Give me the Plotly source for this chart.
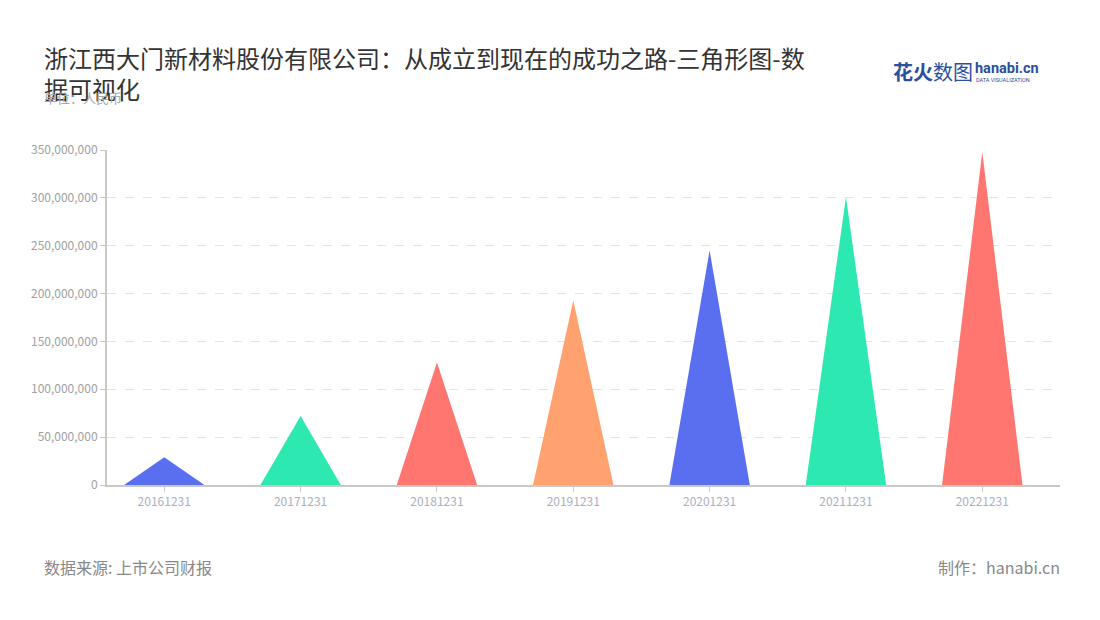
import plotly.graph_objects as go

categories = ["20161231", "20171231", "20181231", "20191231", "20201231", "20211231", "20221231"]
values = [29000000, 72000000, 128000000, 193000000, 245000000, 301000000, 348000000]
colors = ["#5a6ff0", "#2ee8b2", "#ff7570", "#ffa26f", "#5a6ff0", "#2ee8b2", "#ff7570"]
y_ticks = [0, 50000000, 100000000, 150000000, 200000000, 250000000, 300000000, 350000000]

half_w = 0.295
FONT = "Noto Sans CJK SC, Noto Sans, sans-serif"

fig = go.Figure()
for i, (c, v, col) in enumerate(zip(categories, values, colors)):
    fig.add_trace(go.Scatter(
        x=[i - half_w, i, i + half_w, i - half_w],
        y=[0, v, 0, 0],
        mode="lines", fill="toself", fillcolor=col,
        line=dict(width=0, color=col),
        hoverinfo="text", text=f"{c}: {v:,}", showlegend=False,
    ))

fig.update_layout(
    width=1100, height=620,
    margin=dict(l=99, r=48, t=142, b=143),
    paper_bgcolor="white", plot_bgcolor="white",
    font=dict(family=FONT, color="#999"),
    xaxis=dict(
        range=[-0.42, 6.57],
        tickmode="array", tickvals=list(range(len(categories))), ticktext=categories,
        showgrid=False, zeroline=False,
        showline=True, linecolor="#c8c8c8", linewidth=2,
        ticks="outside", ticklen=5, tickcolor="#c8c8c8",
        tickfont=dict(size=12, color="#aab0bf"),
    ),
    yaxis=dict(
        range=[0, 350000000],
        tickmode="array", tickvals=y_ticks,
        ticktext=[f"{t:,}" for t in y_ticks],
        showgrid=True, gridcolor="#e3e3e3", griddash="dash", gridwidth=1,
        zeroline=False,
        showline=True, linecolor="#c8c8c8", linewidth=2,
        ticks="outside", ticklen=5, tickcolor="#c8c8c8",
        tickfont=dict(size=12, color="#a0a0a0"),
    ),
    annotations=[
        dict(text="浙江西大门新材料股份有限公司：从成立到现在的成功之路-三角形图-数<br>据可视化",
             xref="paper", yref="paper", x=-0.068, y=1.334, xanchor="left", yanchor="top",
             align="left", showarrow=False,
             font=dict(size=24, color="#333", family=FONT)),
        dict(text="单位：人民币", xref="paper", yref="paper", x=-0.068, y=1.158,
             xanchor="left", yanchor="middle", showarrow=False,
             font=dict(size=13, color="#aaa", family=FONT)),
        dict(text="<b>花火</b>数图", xref="paper", yref="paper", x=0.823, y=1.233,
             xanchor="left", yanchor="middle", showarrow=False,
             font=dict(size=20, color="#2b4f9e", family=FONT)),
        dict(text="<b>hanabi.cn</b>", xref="paper", yref="paper", x=0.909, y=1.243,
             xanchor="left", yanchor="middle", showarrow=False,
             font=dict(size=14.5, color="#2b4f9e", family="Roboto, sans-serif")),
        dict(text="DATA VISUALIZATION", xref="paper", yref="paper", x=0.910, y=1.208,
             xanchor="left", yanchor="middle", showarrow=False,
             font=dict(size=5.5, color="#2b4f9e", family="Roboto, sans-serif")),
        dict(text="数据来源: 上市公司财报", xref="paper", yref="paper", x=-0.068, y=-0.245,
             xanchor="left", yanchor="middle", showarrow=False,
             font=dict(size=16, color="#888", family=FONT)),
        dict(text="制作：hanabi.cn", xref="paper", yref="paper", x=1.002, y=-0.245,
             xanchor="right", yanchor="middle", showarrow=False,
             font=dict(size=16, color="#888", family=FONT)),
    ],
)

fig.write_html("out.html")
